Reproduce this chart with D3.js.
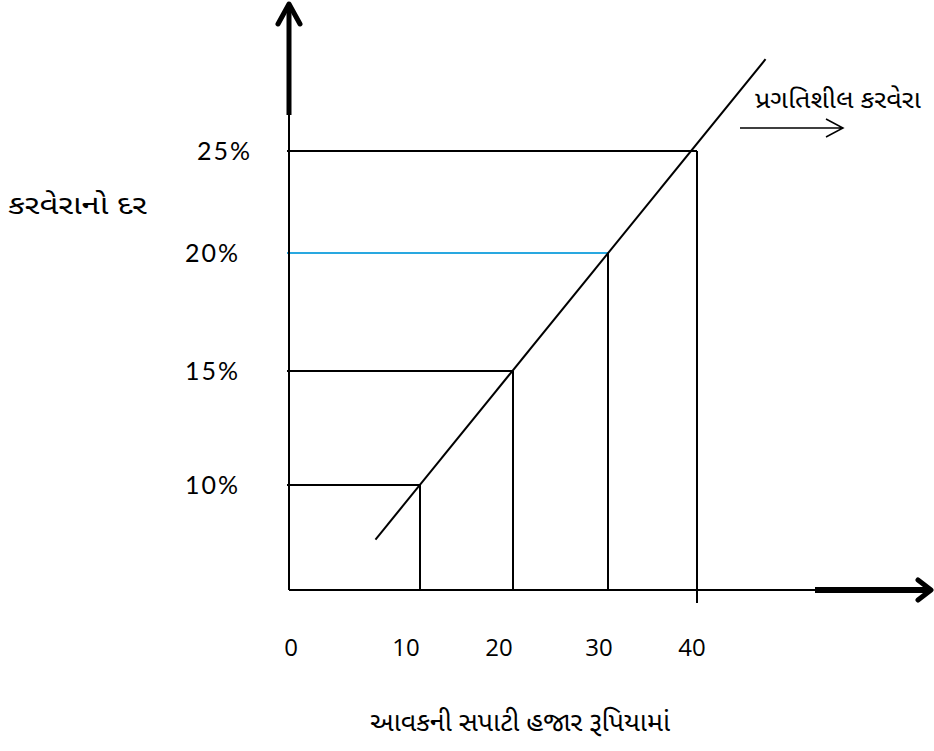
<!DOCTYPE html>
<html>
<head>
<meta charset="utf-8">
<script src="https://cdn.jsdelivr.net/npm/d3@7"></script>
<style>
  body { margin: 0; background: #fff; }
  svg { display: block; }
  .guj { font-family: "Noto Sans Gujarati", "Lohit Gujarati", "Shruti", "Noto Sans", sans-serif; }
  .num { font-family: "Open Sans", Lato, sans-serif; }
  .pct { font-family: Lato, "Open Sans", sans-serif; }
</style>
</head>
<body>
<svg id="chart" width="934" height="751"></svg>
<script>
// values
let incomeTicks = [0, 10, 20, 30, 40];          // thousand rupees
let rateTicks = [10, 15, 20, 25];               // percent
let rateLabels = ["10%", "15%", "20%", "25%"];
let income = [10, 20, 30, 40];
let rate = [10, 15, 20, 25];
let lineColors = ["#000", "#000", "#29a8e0", "#000"];
let progressiveLine = [[6.6, 4.8], [47.7, 29.5]];

var svg = d3.select("#chart")

// hand drawn figure, the steps are not even -> piecewise scales
var x = d3.scaleLinear().domain(incomeTicks).range([289, 420, 513, 608, 697])
var y = d3.scaleLinear().domain([0].concat(rateTicks)).range([590, 485, 371, 253, 151])

var g = svg.append("g")

// guide lines from the axis to each point
income.forEach(function(v, i) {
    g.append("line")
        .attr("x1", x(0) - 2).attr("x2", x(v))
        .attr("y1", y(rate[i])).attr("y2", y(rate[i]))
        .attr("stroke", lineColors[i])
        .attr("stroke-width", 2)
    g.append("line")
        .attr("x1", x(v)).attr("x2", x(v))
        .attr("y1", y(rate[i])).attr("y2", i == income.length - 1 ? y(0) + 13 : y(0))
        .attr("stroke", "#000")
        .attr("stroke-width", 2)
})

// axes
g.append("line")
    .attr("x1", x(0)).attr("x2", x(0))
    .attr("y1", y(0)).attr("y2", 115)
    .attr("stroke", "#000").attr("stroke-width", 2)
g.append("line")
    .attr("x1", x(0)).attr("x2", x(0))
    .attr("y1", 115).attr("y2", 4)
    .attr("stroke", "#000").attr("stroke-width", 5)
g.append("path")
    .attr("d", "M" + (x(0) - 11) + ",24 L" + x(0) + ",4 L" + (x(0) + 11) + ",24")
    .attr("fill", "none").attr("stroke", "#000").attr("stroke-width", 5)
    .attr("stroke-linecap", "round").attr("stroke-linejoin", "round")

g.append("line")
    .attr("x1", x(0)).attr("x2", 815)
    .attr("y1", y(0)).attr("y2", y(0))
    .attr("stroke", "#000").attr("stroke-width", 2)
g.append("line")
    .attr("x1", 815).attr("x2", 930)
    .attr("y1", y(0)).attr("y2", y(0))
    .attr("stroke", "#000").attr("stroke-width", 6)
g.append("path")
    .attr("d", "M918," + (y(0) - 10) + " L931," + y(0) + " L918," + (y(0) + 10))
    .attr("fill", "none").attr("stroke", "#000").attr("stroke-width", 5)
    .attr("stroke-linecap", "round").attr("stroke-linejoin", "round")

// progressive tax line
g.append("path")
    .datum(progressiveLine)
    .attr("d", d3.line().x(d => x(d[0])).y(d => y(d[1])))
    .attr("stroke", "#000").attr("stroke-width", 2).attr("fill", "none")

// tick labels
g.selectAll(".xt").data(incomeTicks).enter().append("text")
    .attr("class", "num")
    .attr("x", (d, i) => x(d) - [-2, 14, 14, 9, 5][i])
    .attr("y", 656)
    .attr("text-anchor", "middle")
    .style("font-size", "24px")
    .text(d => d)

g.selectAll(".yt").data(rateTicks).enter().append("text")
    .attr("class", "pct")
    .attr("x", (d, i) => i == rateTicks.length - 1 ? 197 : 185)
    .attr("y", d => y(d) + 9)
    .style("font-size", "25px")
    .style("letter-spacing", "2px")
    .text((d, i) => rateLabels[i])

// titles
g.append("text").attr("class", "guj")
    .attr("x", 8).attr("y", 214)
    .attr("textLength", 139).attr("lengthAdjust", "spacingAndGlyphs")
    .style("font-size", "27px")
    .text("કરવેરાનો દર")

g.append("text").attr("class", "guj")
    .attr("x", 370).attr("y", 731)
    .attr("textLength", 300).attr("lengthAdjust", "spacingAndGlyphs")
    .style("font-size", "27px")
    .text("આવકની સપાટી હજાર રૂપિયામાં")

g.append("text").attr("class", "guj")
    .attr("x", 755).attr("y", 108)
    .attr("textLength", 166).attr("lengthAdjust", "spacingAndGlyphs")
    .style("font-size", "24px")
    .text("પ્રગતિશીલ કરવેરા")

g.append("path")
    .attr("d", "M740,128 L843,128 M826,119 L843,128 L826,137")
    .attr("fill", "none").attr("stroke", "#000").attr("stroke-width", 1.5)
</script>
</body>
</html>
